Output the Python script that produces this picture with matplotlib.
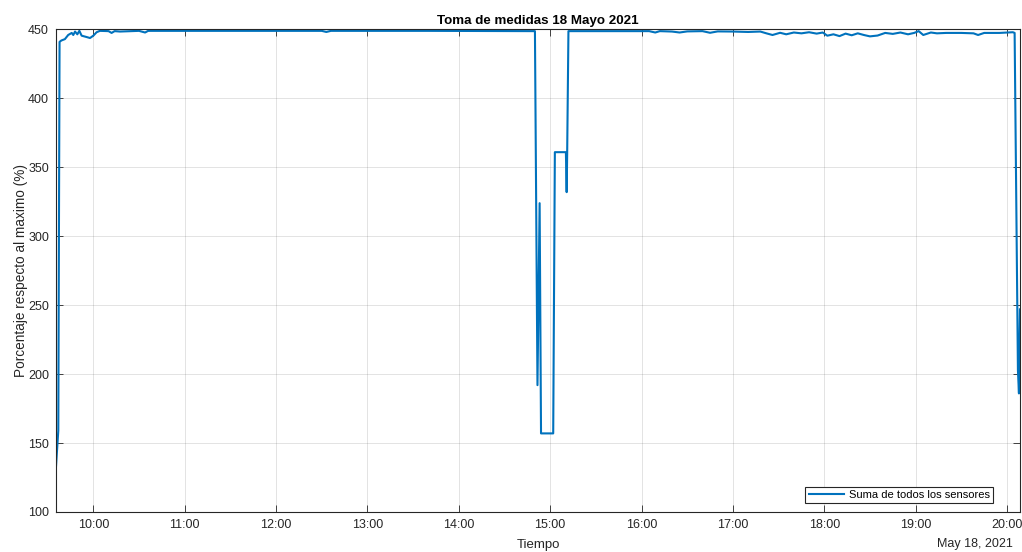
import pandas as pd
import matplotlib
matplotlib.use('Agg')
import matplotlib.pyplot as plt
import matplotlib.dates as mdates

plt.rcParams['font.family'] = ['Liberation Sans', 'DejaVu Sans']

fecha = '2021-05-18 '

# lectura aproximada de la grafica
tiempo = ['09:35:30', '09:37:00', '09:37:50', '09:39:00', '09:41:20', '09:43:30',
          '09:45:50', '09:46:50', '09:48:00', '09:49:30', '09:50:50', '09:52:20',
          '09:55:40', '09:57:50', '10:00:00', '10:02:10', '10:04:20', '10:10:00',
          '10:12:00', '10:14:00', '10:17:30', '10:30:00', '10:34:00', '10:36:00',
          '11:30:00', '12:30:00', '12:33:00', '12:36:00', '13:40:00', '14:50:00',
          '14:51:40', '14:53:05', '14:54:00', '15:02:00', '15:03:05', '15:10:20',
          '15:10:50', '15:11:10', '15:12:00', '16:05:00', '16:09:00', '16:12:00',
          '16:20:00', '16:25:00', '16:30:00', '16:40:00', '16:45:00', '16:50:00',
          '17:00:00', '17:10:00', '17:18:00', '17:22:00', '17:26:00', '17:31:00',
          '17:35:00', '17:40:00', '17:45:00', '17:50:00', '17:55:00', '17:59:00',
          '18:02:00', '18:06:00', '18:10:00', '18:14:00', '18:18:00', '18:22:00',
          '18:26:00', '18:30:00', '18:35:00', '18:40:00', '18:45:00', '18:50:00',
          '18:55:00', '18:59:00', '19:02:00', '19:05:00', '19:10:00', '19:14:00',
          '19:20:00', '19:30:00', '19:38:00', '19:41:00', '19:45:00', '19:55:00',
          '20:03:50', '20:05:00', '20:07:10', '20:07:50', '20:08:30']
suma = [133, 159, 441, 442, 443, 446,
        447.5, 446, 448.5, 446.5, 449, 445.5,
        444.5, 443.8, 445.5, 448, 449, 448.8,
        447.5, 448.8, 448.5, 449, 447.8, 449,
        449, 449, 448.2, 449, 449, 448.8,
        192, 324, 157, 157, 361, 361,
        332, 360, 448.8, 448.8, 447.8, 448.8,
        448.5, 447.8, 448.6, 448.8, 447.6, 448.6,
        448.5, 448.2, 448.5, 447.2, 446, 447.6,
        446.5, 447.8, 447.2, 448, 447, 447.8,
        445.5, 446.5, 445.2, 447, 445.8, 447.2,
        446, 445, 445.6, 447.5, 446.8, 447.8,
        446.5, 447.5, 448.8, 446, 447.8, 447.2,
        447.5, 447.5, 447.2, 446, 447.5, 447.5,
        448, 447.5, 203, 186, 247]

t = pd.to_datetime([fecha + x for x in tiempo])

fig = plt.figure(figsize=(10.22, 5.52), dpi=100)
ax = fig.add_axes([0.0548, 0.0725, 0.9432, 0.8741])

ax.plot(t, suma, color='#0072BD', linewidth=1.5, label='Suma de todos los sensores')

ax.set_xlim(pd.Timestamp(fecha + '09:35:30'), pd.Timestamp(fecha + '20:08:30'))
ax.set_ylim(100, 450)
ax.set_yticks(range(100, 451, 50))
ax.xaxis.set_major_locator(mdates.HourLocator())
ax.xaxis.set_major_formatter(mdates.DateFormatter('%H:%M'))

ax.grid(True, color='#262626', alpha=0.15, linewidth=0.6)
ax.tick_params(direction='in', top=True, right=True, length=5, width=0.6,
               labelsize=9, colors='#262626', pad=5)
for s in ax.spines.values():
    s.set_color('#262626')
    s.set_linewidth(0.8)

ax.set_title('Toma de medidas 18 Mayo 2021', fontsize=9.6, fontweight='bold', pad=4)
ax.set_xlabel('Tiempo', fontsize=9.5, color='#262626', labelpad=6)
ax.set_ylabel('Porcentaje respecto al maximo (%)', fontsize=9.8, color='#262626', labelpad=0)
ax.text(0.993, -0.054, 'May 18, 2021', transform=ax.transAxes, ha='right', va='top',
        fontsize=9, color='#262626')

leg = ax.legend(loc='lower right', bbox_to_anchor=(0.972, 0.018), borderaxespad=0,
                fontsize=8, fancybox=False, framealpha=1, handlelength=3.2,
                borderpad=0.3, handletextpad=0.4)
leg.get_frame().set_edgecolor('#262626')
leg.get_frame().set_linewidth(0.8)

plt.savefig('out.png', dpi=100)
